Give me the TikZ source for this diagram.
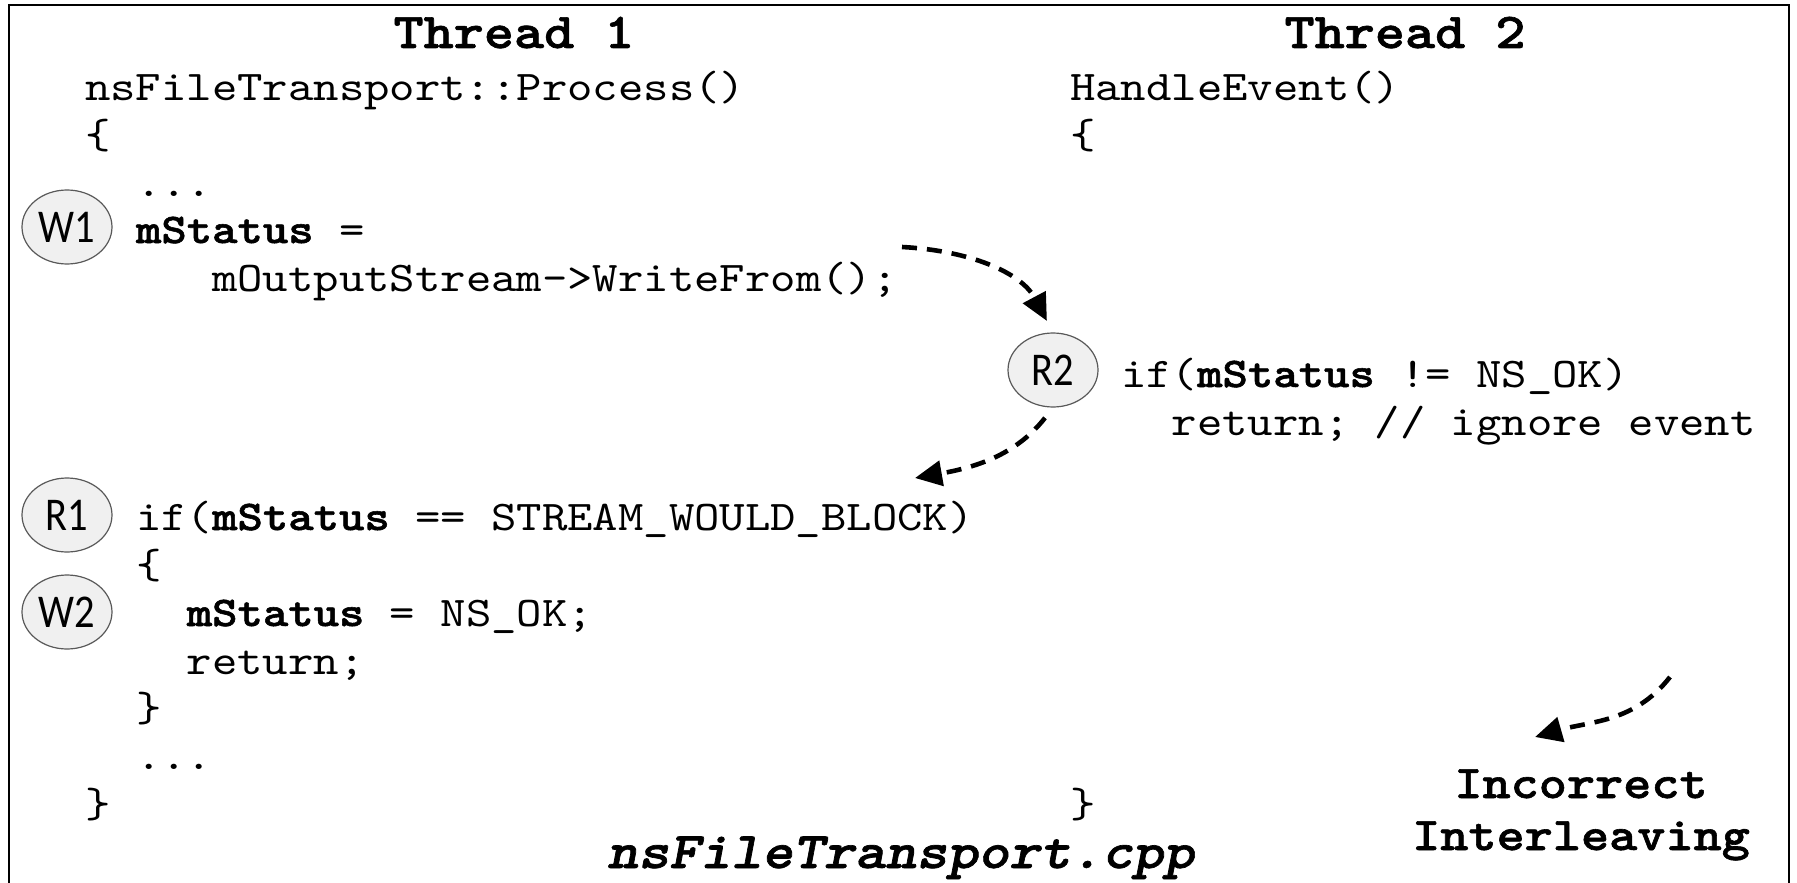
\documentclass[tikz,border=0pt]{standalone}
\usepackage{fontspec}
\usetikzlibrary{arrows.meta,shapes.geometric}
% Typewriter face for the code, widened to the usual 0.6em pitch
\newfontfamily\codefont{lmmono10-regular.otf}[
  FakeStretch=1.143,
  BoldFont=lmmonolt10-bold.otf,
  BoldFeatures={FakeBold=1.3},
  ItalicFont=lmmono10-italic.otf,
  BoldItalicFont=lmmonolt10-boldoblique.otf,
  BoldItalicFeatures={FakeBold=1.3}]
\newfontfamily\markfont{Carlito}[FakeStretch=0.86]

\begin{document}
\begin{tikzpicture}[x=1pt,y=-1pt,
  codeline/.style={anchor=base west, inner sep=0pt,
    font=\codefont\frenchspacing\fontsize{42.3}{48}\selectfont},
  heading/.style={anchor=base, inner sep=0pt,
    font=\codefont\bfseries\fontsize{50.2}{56}\selectfont},
  verdict/.style={anchor=base, inner sep=0pt,
    font=\codefont\bfseries\fontsize{46.9}{52}\selectfont},
  access/.style={ellipse, draw=black!65, line width=1.2pt, fill=black!6,
    minimum width=90pt, minimum height=74pt, inner sep=0pt,
    font=\markfont\fontsize{47}{47}\selectfont},
  flow/.style={line width=4.6pt, dash pattern=on 15pt off 10pt,
    -{Triangle[length=27pt,width=25pt]}}]

\useasboundingbox (0,0) rectangle (1797,883);

% open frame (the lower edge runs off the page)
\draw[line width=2.5pt] (9,900) -- (9,5) -- (1789,5) -- (1789,900);

% column headings
\node[heading] (head1) at (514,48) {Thread 1};
\node[heading] (head2) at (1405,48) {Thread 2};

% Thread 1 code
\node[codeline] (a0)  at (85,100)    {nsFileTransport::Process()};
\node[codeline] (a1)  at (85,148)    {\{};
\node[codeline] (a2)  at (135.8,196) {...};
\node[codeline] (a3)  at (135.8,243) {\textbf{mStatus} =};
\node[codeline] (a4)  at (212,291)   {mOutputStream->WriteFrom();};
\node[codeline] (a9)  at (135.8,530) {if(\textbf{mStatus} == STREAM\_WOULD\_BLOCK)};
\node[codeline] (a10) at (135.8,578) {\{};
\node[codeline] (a11) at (186.6,626) {\textbf{mStatus} = NS\_OK;};
\node[codeline] (a12) at (186.6,674) {return;};
\node[codeline] (a13) at (135.8,721) {\}};
\node[codeline] (a14) at (135.8,769) {...};
\node[codeline] (a15) at (85,817)    {\}};

% Thread 2 code
\node[codeline] (b0)  at (1070,100)   {HandleEvent()};
\node[codeline] (b1)  at (1070,148)   {\{};
\node[codeline] (b6)  at (1120.8,387) {if(\textbf{mStatus} != NS\_OK)};
\node[codeline] (b7)  at (1171.6,435) {return; // ignore event};
\node[codeline] (b15) at (1070,817)   {\}};

% access markers
\node[access] (w1) at (67,227)  {W1};
\node[access] (r1) at (67,515)  {R1};
\node[access] (w2) at (67,612)  {W2};
\node[access] (r2) at (1053,370) {R2};

% file name and verdict
\node[anchor=base, inner sep=0pt,
  font=\codefont\bfseries\itshape\fontsize{51.5}{56}\selectfont]
  (file) at (901,868) {nsFileTransport.cpp};
\node[verdict] (bad1) at (1581,798) {Incorrect};
\node[verdict] (bad2) at (1581,850) {Interleaving};

% ordering arrows
\coordinate (w1out) at (902,247);
\coordinate (r1in) at (915,478);
\coordinate (badfrom) at (1670,677);
\coordinate (badto) at (1535,737);

\draw[flow, shorten >=13pt] (w1out) to[out=-3, in=118] (r2.north);
\draw[flow, shorten <=13pt] (r2.south) to[out=-128, in=10] (r1in);
\draw[flow] (badfrom) to[out=-128, in=16] (badto);
\end{tikzpicture}
\end{document}
